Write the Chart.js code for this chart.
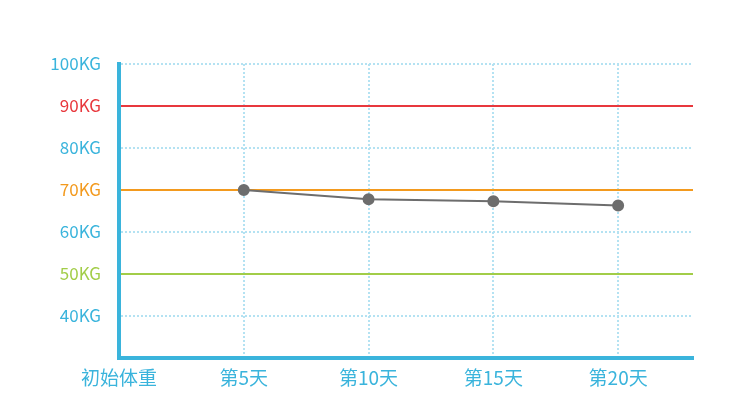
<!DOCTYPE html>
<html>
<head>
<meta charset="utf-8">
<script src="https://cdn.jsdelivr.net/npm/chart.js@4"></script>
<style>
  html, body { margin: 0; padding: 0; background: #fff; }
  #wrap { width: 750px; height: 417px; }
</style>
</head>
<body>
<div id="wrap"><canvas id="weightChart"></canvas></div>
<script>
// data
var dayLabels = ["初始体重", "第5天", "第10天", "第15天", "第20天"];
var dayValues = [0, 5, 10, 15, 20];
var weights = [null, 70, 67.8, 67.3, 66.3];
var refValues = [90, 70, 50];

// styles
var blue = "#3ab4dc";
var dotBlue = "#b4e2f2";
var refColors = ["#e8383d", "#f39a1e", "#a2cd48"];

function refColor(value, fallback) {
  var i = refValues.indexOf(value);
  return i >= 0 ? refColors[i] : fallback;
}

var points = dayValues.map(function (d, i) { return { x: d, y: weights[i] }; });

var ctx = document.getElementById('weightChart').getContext('2d');
var weightChart = new Chart(ctx, {
  type: 'line',
  data: {
    datasets: [{
      data: points,
      borderColor: "#6d6d6d",
      backgroundColor: "#6d6d6d",
      borderWidth: 2,
      pointRadius: 5,
      pointHoverRadius: 5,
      fill: false,
      tension: 0
    }]
  },
  options: {
    responsive: true,
    maintainAspectRatio: false,
    animation: false,
    layout: { padding: { left: 0, top: 64, right: 57, bottom: 0 } },
    plugins: { legend: { display: false }, tooltip: { enabled: false } },
    scales: {
      x: {
        type: 'linear',
        min: 0,
        max: 23,
        afterFit: function (scale) { scale.height = 59; },
        ticks: {
          stepSize: 5,
          includeBounds: false,
          padding: 8,
          color: blue,
          font: { family: "'Noto Sans CJK SC', sans-serif", size: 19 },
          maxRotation: 0,
          callback: function (value) {
            var i = dayValues.indexOf(value);
            return i >= 0 ? dayLabels[i] : '';
          }
        },
        grid: {
          drawTicks: false,
          color: function (c) { return c.tick && c.tick.value === 0 ? 'rgba(0,0,0,0)' : dotBlue; },
          lineWidth: 2
        },
        border: { display: true, color: blue, width: 4, dash: [2, 2] }
      },
      y: {
        min: 30,
        max: 100,
        afterFit: function (scale) { scale.width = 119; },
        ticks: {
          stepSize: 10,
          padding: 18,
          color: function (c) { return refColor(c.tick.value, blue); },
          font: { family: "'Noto Sans CJK SC', sans-serif", size: 17 },
          callback: function (value) { return value === 30 ? '' : value + 'KG'; }
        },
        grid: {
          drawTicks: false,
          color: function (c) {
            if (c.tick && c.tick.value === 30) return 'rgba(0,0,0,0)';
            return refColor(c.tick ? c.tick.value : null, dotBlue);
          },
          lineWidth: 2
        },
        border: {
          display: true,
          color: blue,
          width: 4,
          dash: function (c) { return refValues.indexOf(c.tick ? c.tick.value : null) >= 0 ? [] : [2, 2]; }
        }
      }
    }
  }
});
</script>
</body>
</html>
